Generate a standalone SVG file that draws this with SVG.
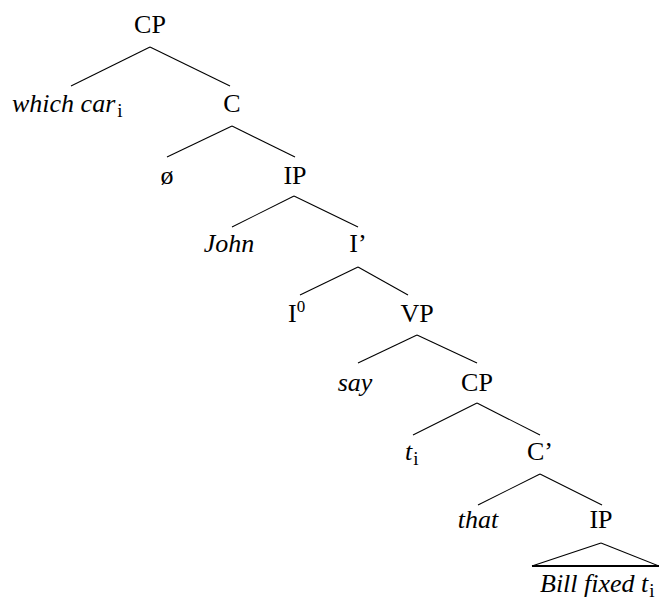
<svg xmlns="http://www.w3.org/2000/svg" width="659" height="600" viewBox="0 0 659 600">
<style>
text{font-family:"Liberation Serif","Times New Roman",serif;font-size:26px;fill:#000}
.c{text-anchor:middle}
.it{font-style:italic}
.sub{font-size:19px;font-style:normal}
.e line{stroke:#000;stroke-width:1.1}
</style>
<rect width="659" height="600" fill="#fff"/>
<g class="e" id="connectors">
<line x1="150" y1="47" x2="71" y2="86"/>
<line x1="150" y1="47" x2="230" y2="86"/>
<line x1="232" y1="126" x2="167" y2="157"/>
<line x1="232" y1="126" x2="295" y2="157"/>
<line x1="294" y1="196" x2="232" y2="227"/>
<line x1="294" y1="196" x2="358" y2="227"/>
<line x1="358" y1="267" x2="300" y2="295"/>
<line x1="358" y1="267" x2="408" y2="295"/>
<line x1="417" y1="335" x2="358" y2="363"/>
<line x1="417" y1="335" x2="477" y2="363"/>
<line x1="477" y1="403" x2="413" y2="435"/>
<line x1="477" y1="403" x2="540" y2="435"/>
<line x1="540" y1="474" x2="478" y2="505"/>
<line x1="540" y1="474" x2="602" y2="505"/>
<line x1="601" y1="543" x2="532" y2="566"/>
<line x1="601" y1="543" x2="659" y2="566"/>
<line x1="532" y1="566" x2="659" y2="566" style="stroke-width:1.8"/>
</g>
<g id="n-cp1"><text class="c" x="150" y="33">CP</text></g>
<g id="n-whichcar"><text x="12" y="112"><tspan class="it">which car</tspan><tspan class="sub" dx="2" dy="5">i</tspan></text></g>
<g id="n-c"><text class="c" x="232" y="112">C</text></g>
<g id="n-null"><text class="c" x="167" y="184">ø</text></g>
<g id="n-ip1"><text class="c" x="295" y="184">IP</text></g>
<g id="n-john"><text class="c it" x="229" y="252">John</text></g>
<g id="n-ibar"><text class="c" x="358" y="252">I’</text></g>
<g id="n-i0"><text x="288" y="322">I<tspan font-size="17" dy="-10">0</tspan></text></g>
<g id="n-vp"><text class="c" x="417" y="322">VP</text></g>
<g id="n-say"><text class="c it" x="355" y="391">say</text></g>
<g id="n-cp2"><text class="c" x="477" y="391">CP</text></g>
<g id="n-t"><text x="405" y="460"><tspan class="it">t</tspan><tspan class="sub" dx="1" dy="5">i</tspan></text></g>
<g id="n-cbar"><text class="c" x="540" y="460">C’</text></g>
<g id="n-that"><text class="c it" x="478" y="528">that</text></g>
<g id="n-ip2"><text class="c" x="601" y="528">IP</text></g>
<g id="n-bill"><text x="540" y="592"><tspan class="it">Bill fixed t</tspan><tspan class="sub" dx="1" dy="5">i</tspan></text></g>
</svg>
